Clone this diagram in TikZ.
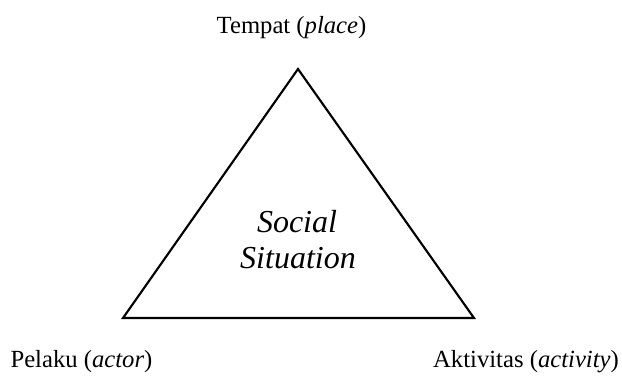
\documentclass[tikz,border=0pt]{standalone}
\usepackage{fontspec}
\setmainfont{Liberation Serif}
\usetikzlibrary{positioning}

\begin{document}
\begin{tikzpicture}[
    x=0.75pt,
    y=-0.75pt,
    cornertext/.style={font=\fontsize{18.5}{22}\selectfont, anchor=base},
    middletext/.style={font=\fontsize{24}{28}\selectfont\itshape, anchor=base}
]

\useasboundingbox (0,0) rectangle (622,378);

% =================================================
% TRIANGLE
% =================================================

\coordinate (apex) at (298,69);
\coordinate (lowleft) at (123,318);
\coordinate (lowright) at (474,318);

\draw[
    line width=1.6pt,
    line join=miter
] (apex) -- (lowleft) -- (lowright) -- cycle;

% Centre text
\node[middletext] (social) at (297,233) {Social};
\node[middletext] (situation) at (298,268) {Situation};

% =================================================
% CORNER LABELS
% =================================================

\node[cornertext] (place) at (291.5,34) {Tempat (\textit{place})};

\node[cornertext] (actor) at (81.5,367) {Pelaku (\textit{actor})};

\node[cornertext] (activity) at (526,367) {Aktivitas (\textit{activity})};

\end{tikzpicture}
\end{document}
